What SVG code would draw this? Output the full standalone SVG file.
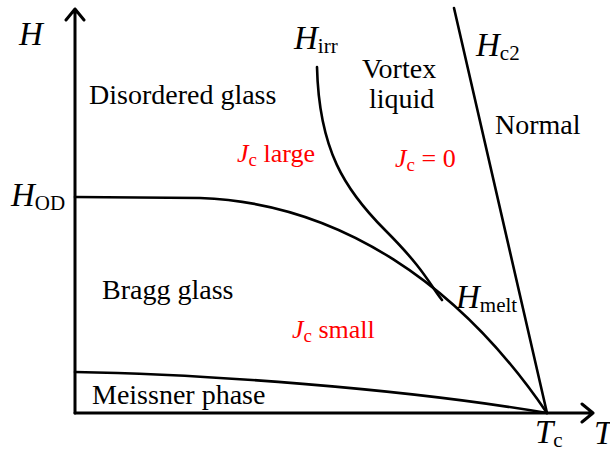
<svg xmlns="http://www.w3.org/2000/svg" width="610" height="453" viewBox="0 0 610 453">
<style>
.ln{fill:none;stroke:#000;stroke-width:2.6;stroke-linecap:round;stroke-linejoin:round}
.ax{stroke-width:3}
.t{font-family:"Liberation Serif","Times New Roman",serif;font-size:28px;fill:#000}
.i{font-style:italic;font-size:33px}
.s{font-size:21px;font-style:normal}
.r{fill:#ff0000;font-size:26px}
</style>
<rect width="610" height="453" fill="#fff"/>
<g id="axes">
<path class="ln ax" d="M75,413 V9 M66,20 L75,9 L84,20"/>
<path class="ln ax" d="M75,413 H593 M582,404 L593,413 L582,422"/>
</g>
<g id="connectors">
<path class="ln" d="M75,197 L200,198 C 340,203 460,285 547,413"/>
<path class="ln" d="M317,67 C 319,150 345,190 385,230 S 430,285 442,300"/>
<path class="ln" d="M454,8 L547,413"/>
<path class="ln" d="M75,372 C 200,374 400,388 547,413"/>
</g>
<g id="labels">
<text class="t i" x="19" y="45" font-size="36">H</text>
<text class="t i" x="294" y="49">H<tspan class="s" dy="4">irr</tspan></text>
<text class="t i" x="476" y="56">H<tspan class="s" dy="4">c2</tspan></text>
<text class="t i" x="11" y="206">H<tspan class="s" dy="4">OD</tspan></text>
<text class="t i" x="456" y="308">H<tspan class="s" dy="4">melt</tspan></text>
<text class="t i" x="535" y="443">T<tspan class="s" dy="4">c</tspan></text>
<text class="t i" x="594" y="444" font-size="36">T</text>
<text class="t" x="89" y="104">Disordered glass</text>
<text class="t" x="362" y="78">Vortex</text>
<text class="t" x="369" y="108">liquid</text>
<text class="t" x="495" y="134">Normal</text>
<text class="t" x="102" y="299">Bragg glass</text>
<text class="t" x="92" y="404">Meissner phase</text>
<text class="t r" x="237" y="162"><tspan font-style="italic">J</tspan><tspan font-size="19" dy="4">c</tspan><tspan dy="-4"> large</tspan></text>
<text class="t r" x="395" y="167"><tspan font-style="italic">J</tspan><tspan font-size="19" dy="4">c</tspan><tspan dy="-4"> = 0</tspan></text>
<text class="t r" x="292" y="338"><tspan font-style="italic">J</tspan><tspan font-size="19" dy="4">c</tspan><tspan dy="-4"> small</tspan></text>
</g>
</svg>
